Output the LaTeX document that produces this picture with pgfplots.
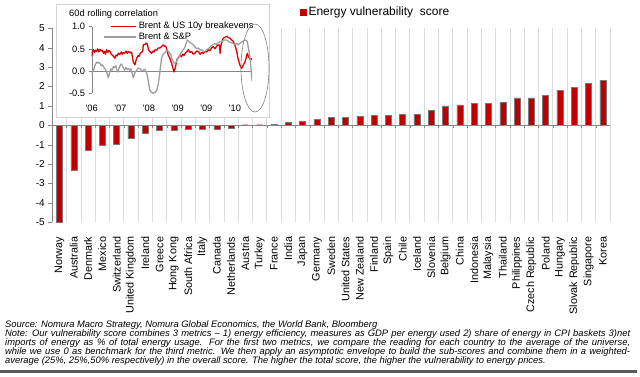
\documentclass[border=0pt]{standalone}
\usepackage{pgfplots}
\pgfplotsset{compat=1.18}
\usepackage{fontspec}
\setmainfont{Liberation Sans}
\definecolor{barred}{RGB}{192,0,0}
\definecolor{bardraw}{RGB}{120,120,120}
\definecolor{linered}{RGB}{222,0,0}
\definecolor{linegray}{RGB}{158,158,158}
\definecolor{gridgray}{RGB}{220,220,220}
\definecolor{axgray}{RGB}{134,134,134}
\begin{document}
\begin{tikzpicture}[x=1pt,y=1pt]
\path[use as bounding box] (0,0) rectangle (640,-377);
% ---------------- main chart
\begin{axis}[
 at={(52.3pt,-222.3pt)}, anchor=south west,
 scale only axis, width=557.7pt, height=194pt,
 xmin=-0.5, xmax=38.5, ymin=-5, ymax=5,
 axis lines*=left,
 x axis line style={draw=none},
 y axis line style={axgray},
 ytick={-5,...,5},
 tick align=outside, major tick length=4pt, minor tick length=0pt,
 y tick style={axgray},
 x tick style={draw=none},
 yticklabel style={font=\fontsize{10}{12}\selectfont},
 xtick={0,...,38},
 xticklabels={Norway,Australia,Denmark,Mexico,Switzerland,United Kingdom,Ireland,Greece,Hong Kong,South Africa,Italy,Canada,Netherlands,Austria,Turkey,France,India,Japan,Germany,Sweden,United States,New Zealand,Finland,Spain,Chile,Iceland,Slovenia,Belgium,China,Indonesia,Malaysia,Thailand,Philippines,Czech Republic,Poland,Hungary,Slovak Republic,Singapore,Korea},
 xticklabel style={rotate=90, anchor=east, font=\fontsize{10.8}{12}\selectfont},
 xticklabel shift=7pt,
 minor xtick={-0.5,0.5,...,38.5},
 xminorgrids, minor grid style={gridgray, line width=0.8pt},
 /pgf/number format/assume math mode=true,
 ybar, bar width=6pt,
 legend style={at={(0.444,1.084)}, anchor=west, draw=none, fill=none,
   font=\fontsize{12}{14}\selectfont, inner sep=0pt},
]
\addplot[fill=barred, draw=bardraw, line width=0.4pt,
 legend image code/.code={\fill[barred] (0pt,-3pt) rectangle (6pt,3pt);}]
 coordinates {(0,-5.0) (1,-2.34) (2,-1.29) (3,-1.02) (4,-0.97) (5,-0.69) (6,-0.43)
 (7,-0.24) (8,-0.24) (9,-0.20) (10,-0.20) (11,-0.20) (12,-0.13) (13,0.03) (14,0.03)
 (15,0.04) (16,0.14) (17,0.22) (18,0.31) (19,0.40) (20,0.40) (21,0.45) (22,0.50)
 (23,0.50) (24,0.58) (25,0.58) (26,0.76) (27,1.00) (28,1.05) (29,1.12) (30,1.12)
 (31,1.17) (32,1.41) (33,1.41) (34,1.53) (35,1.81) (36,1.95) (37,2.18) (38,2.33)};
\addlegendentry{Energy vulnerability\ \ score}
\pgfplotsinvokeforeach{0,...,39}{
 \draw[axgray] (axis cs:#1-0.5,0) -- ([yshift=-3pt]axis cs:#1-0.5,0);
}
\draw[axgray, line width=0.6pt] (axis cs:-0.5,0) -- (axis cs:38.5,0);
\end{axis}
% ---------------- inset
\draw[gray!35, fill=white] (56,-4) rectangle (269,-117);
\node[anchor=west, inner sep=0pt, font=\fontsize{9.3}{11}\selectfont] at (69,-14) {60d rolling correlation};
\begin{axis}[
 at={(91.7pt,-93.3pt)}, anchor=south west,
 scale only axis, width=160.5pt, height=66.7pt,
 xmin=0, xmax=5.6, ymin=-0.5, ymax=1.0,
 axis lines*=left,
 x axis line style={draw=none},
 y axis line style={axgray},
 ytick={-0.5,0,0.5,1},
 yticklabel style={font=\fontsize{9.3}{11}\selectfont,
   /pgf/number format/fixed, /pgf/number format/fixed zerofill,
   /pgf/number format/precision=1},
 extra y ticks={0}, extra y tick labels={},
 extra y tick style={grid=major, major grid style={axgray, line width=0.6pt}},
 xtick={0,...,5},
 xticklabels={\textquotesingle06,\textquotesingle07,\textquotesingle08,\textquotesingle09,\textquotesingle09,\textquotesingle10},
 xticklabel style={font=\fontsize{9.3}{11}\selectfont},
 xticklabel shift=5pt,
 x tick style={draw=none},
 tick align=outside, major tick length=3pt,
 y tick style={axgray},
 /pgf/number format/assume math mode=true,
 legend style={at={(0.072,1.10)}, anchor=north west, draw=none, fill=none,
   font=\fontsize{9.3}{10.5}\selectfont, inner sep=0pt, row sep=-1.5pt},
 legend cell align=left,
]
\addplot[linered, line width=1.3pt, line join=round,
 legend image code/.code={\draw[linered, line width=1.3pt] (0pt,0pt) -- (25pt,0pt);}]
 coordinates {
(0.00,0.33) (0.03,0.45) (0.06,0.48) (0.10,0.42) (0.13,0.47) (0.17,0.44) (0.21,0.50)
(0.25,0.43) (0.29,0.49) (0.33,0.45) (0.37,0.47) (0.41,0.40) (0.45,0.44) (0.48,0.38)
(0.52,0.48) (0.56,0.42) (0.60,0.46) (0.64,0.44) (0.68,0.38) (0.72,0.36) (0.76,0.33)
(0.81,0.29) (0.85,0.36) (0.89,0.34) (0.93,0.40) (0.98,0.37) (1.03,0.43) (1.07,0.38)
(1.10,0.42) (1.15,0.40) (1.20,0.45) (1.24,0.40) (1.28,0.44) (1.33,0.41) (1.37,0.43)
(1.40,0.40) (1.45,0.21) (1.51,0.14) (1.55,0.25) (1.57,0.29) (1.62,0.35) (1.66,0.33)
(1.69,0.40) (1.74,0.42) (1.78,0.45) (1.80,0.59) (1.86,0.60) (1.92,0.63) (1.95,0.58)
(1.98,0.48) (2.03,0.44) (2.09,0.40) (2.14,0.45) (2.18,0.43) (2.21,0.48) (2.27,0.47)
(2.32,0.52) (2.38,0.52) (2.44,0.55) (2.50,0.59) (2.55,0.56) (2.59,0.55) (2.63,0.46)
(2.67,0.36) (2.72,0.30) (2.76,0.22) (2.79,0.17) (2.83,0.08) (2.87,-0.02) (2.92,0.08)
(2.97,0.25) (3.02,0.30) (3.08,0.36) (3.13,0.32) (3.18,0.38) (3.22,0.35) (3.26,0.40)
(3.31,0.43) (3.37,0.48) (3.42,0.42) (3.49,0.44) (3.54,0.38) (3.60,0.40) (3.66,0.45)
(3.72,0.44) (3.78,0.38) (3.84,0.42) (3.90,0.40) (3.96,0.44) (4.02,0.43) (4.07,0.48)
(4.13,0.46) (4.18,0.52) (4.24,0.55) (4.30,0.50) (4.36,0.56) (4.42,0.59) (4.46,0.58)
(4.48,0.40) (4.50,0.55) (4.53,0.62) (4.59,0.74) (4.65,0.76) (4.71,0.78) (4.77,0.75)
(4.83,0.74) (4.88,0.70) (4.94,0.67) (5.00,0.58) (5.06,0.44) (5.10,0.30) (5.14,0.20)
(5.17,0.14) (5.23,0.06) (5.28,0.12) (5.35,0.21) (5.39,0.30) (5.43,0.40) (5.47,0.33)
(5.52,0.27) (5.56,0.28) (5.60,0.25)};
\addlegendentry{Brent \& US 10y breakevens}
\addplot[linegray, line width=1.3pt, line join=round,
 legend image code/.code={\draw[linegray, line width=1.3pt] (-7pt,0pt) -- (25pt,0pt);}]
 coordinates {
(0.00,-0.05) (0.04,0.00) (0.08,0.05) (0.12,0.14) (0.17,0.20) (0.21,0.18) (0.25,0.20)
(0.29,0.17) (0.33,0.12) (0.37,0.14) (0.41,0.10) (0.45,0.06) (0.50,0.02) (0.54,-0.06)
(0.58,-0.15) (0.62,-0.04) (0.67,0.05) (0.71,0.02) (0.76,0.10) (0.80,0.08) (0.84,0.12)
(0.87,0.05) (0.92,-0.02) (0.96,0.08) (0.99,0.12) (1.04,0.16) (1.10,0.08) (1.15,0.02)
(1.20,0.08) (1.24,0.04) (1.28,0.06) (1.33,0.02) (1.37,0.05) (1.40,-0.02) (1.45,-0.15)
(1.50,-0.05) (1.57,0.02) (1.62,0.07) (1.69,0.05) (1.75,0.00) (1.80,0.02) (1.86,0.04)
(1.92,-0.05) (1.95,-0.12) (1.98,-0.25) (2.03,-0.43) (2.08,-0.47) (2.15,-0.50) (2.21,-0.48)
(2.27,-0.43) (2.32,-0.30) (2.36,-0.13) (2.40,0.10) (2.44,0.30) (2.50,0.38) (2.56,0.42)
(2.61,0.47) (2.67,0.45) (2.72,0.40) (2.76,0.38) (2.80,0.28) (2.85,0.20) (2.89,0.17)
(2.93,0.18) (2.98,0.25) (3.03,0.30) (3.08,0.36) (3.13,0.42) (3.18,0.47) (3.22,0.50)
(3.26,0.55) (3.30,0.64) (3.34,0.70) (3.40,0.66) (3.45,0.63) (3.49,0.62) (3.55,0.58)
(3.60,0.55) (3.66,0.50) (3.72,0.52) (3.78,0.47) (3.84,0.48) (3.90,0.44) (3.95,0.44)
(4.02,0.48) (4.10,0.52) (4.17,0.57) (4.24,0.60) (4.30,0.62) (4.36,0.60) (4.42,0.64)
(4.48,0.66) (4.55,0.67) (4.62,0.70) (4.71,0.70) (4.78,0.66) (4.86,0.64) (4.94,0.62)
(5.00,0.60) (5.06,0.62) (5.12,0.59) (5.17,0.62) (5.24,0.66) (5.30,0.68) (5.35,0.70)
(5.40,0.68) (5.43,0.66) (5.46,0.55) (5.50,0.40) (5.53,0.25) (5.55,0.10) (5.58,-0.10)
(5.60,-0.23)};
\addlegendentry{Brent \& S\&P}
\end{axis}
\draw[gray, line width=0.6pt] (255,-68) ellipse (14 and 44);
% ---------------- notes
\begin{scope}[every node/.style={anchor=west, inner sep=0pt, font=\fontsize{9.4}{10}\selectfont\itshape}]
\node at (5,-325) {Source: Nomura Macro Strategy, Nomura Global Economics, the World Bank, Bloomberg};
\node at (5,-334) {\makebox[625pt][s]{Note: Our vulnerability score combines 3 metrics -- 1) energy efficiency, measures as GDP per energy used 2) share of energy in CPI baskets 3)net}};
\node at (5,-343) {\makebox[625pt][s]{imports of energy as \% of total energy usage. For the first two metrics, we compare the reading for each country to the average of the universe,}};
\node at (5,-352) {\makebox[625pt][s]{while we use 0 as benchmark for the third metric. We then apply an asymptotic envelope to build the sub-scores and combine them in a weighted-}};
\node at (5,-361.5) {average (25\%, 25\%,50\% respectively) in the overall score. The higher the total score, the higher the vulnerability to energy prices.};
\end{scope}
\fill[black!65] (0,-370) rectangle (637,-372.5);
\end{tikzpicture}
\end{document}
